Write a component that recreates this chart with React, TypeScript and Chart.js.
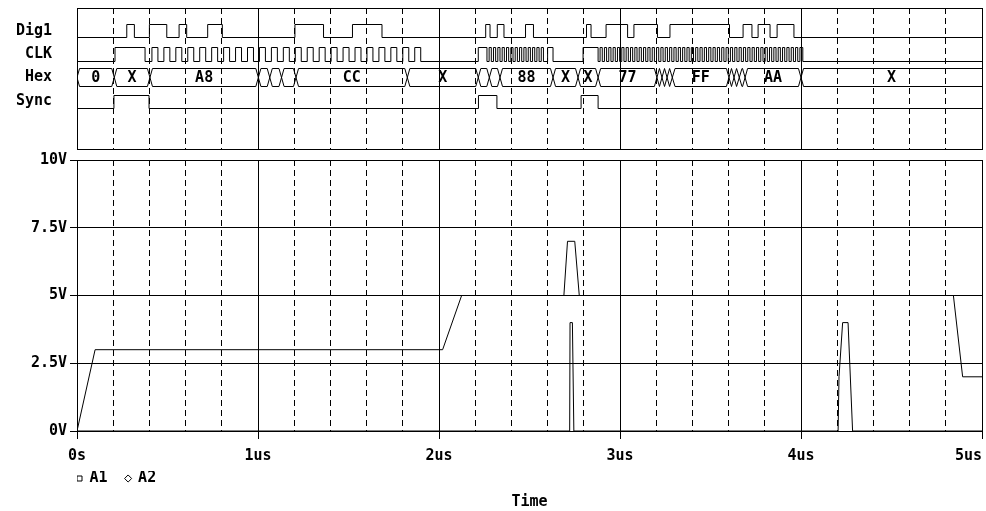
import React, { useEffect, useRef } from 'react';
import { Chart, registerables } from 'chart.js';

Chart.register(...registerables);

const FONT = "'DejaVu Sans Mono', 'Liberation Mono', monospace";

// ---------------- analog data ----------------
const voltTicks = [0, 2.5, 5, 7.5, 10];
const voltTickLabels = ['0V', '2.5V', '5V', '7.5V', '10V'];
const timeMajorTicks = [0, 1, 2, 3, 4, 5];
const timeTickLabels = ['0s', '1us', '2us', '3us', '4us', '5us'];

const a1Time = [0, 0.1, 2.02, 2.125, 2.69, 2.71, 2.75, 2.775, 4.842, 4.893, 5];
const a1Volt = [0, 3, 3, 5, 5, 7, 7, 5, 5, 2, 2];
const a2Time = [0, 2.722, 2.724, 2.737, 2.745, 4.205, 4.21, 4.23, 4.26, 4.285, 5];
const a2Volt = [0, 0, 4, 4, 0, 0, 2, 4, 4, 0, 0];

// ---------------- digital data (edge times, ns) ----------------
const digitalLabels = ['Dig1', 'CLK', 'Hex', 'Sync'];

const dig1Start = 0;
const dig1Edges = [275, 317, 400, 496, 564, 606, 722, 803, 1204, 1362, 1522, 1685, 2258, 2282, 2322, 2359,
  2478, 2522, 2815, 2840, 2923, 3042, 3077, 3207, 3276, 3605, 3680, 3729, 3763, 3829, 3868, 3961];

const clkStart = 0;
const clkEdges = [210, 376,
  414, 447, 480, 513, 546, 579, 612, 645, 678, 711, 744, 777, 810, 843, 876, 909, 942, 975, 1008, 1041,
  1074, 1107, 1140, 1173, 1206, 1239, 1272, 1305, 1338, 1371, 1404, 1437, 1470, 1503, 1536, 1569, 1602, 1635,
  1668, 1701, 1734, 1767, 1800, 1833, 1866, 1899,
  2217, 2265, 2277, 2289, 2301, 2313, 2325, 2337, 2349, 2361, 2373, 2385, 2397, 2409, 2421, 2433, 2445, 2457,
  2469, 2481, 2493, 2505, 2517, 2529, 2541, 2553, 2565, 2577, 2600, 2630,
  2796, 2879,
  2890, 2902, 2914, 2926, 2938, 2950, 2962, 2974, 2986, 2998, 3010, 3022, 3034, 3046, 3058, 3070, 3082, 3094,
  3106, 3118, 3130, 3142, 3154, 3166, 3178, 3190, 3202, 3214, 3226, 3238, 3250, 3262, 3274, 3286, 3298, 3310,
  3322, 3334, 3346, 3358, 3370, 3382, 3394, 3406, 3418, 3430, 3442, 3454, 3466, 3478, 3490, 3502, 3514, 3526,
  3538, 3550, 3562, 3574, 3586, 3598, 3610, 3622, 3634, 3646, 3658, 3670, 3682, 3694, 3706, 3718, 3730, 3742,
  3754, 3766, 3778, 3790, 3802, 3814, 3826, 3838, 3850, 3862, 3874, 3886, 3898, 3910, 3922, 3934, 3946, 3958,
  3970, 3982, 3994, 4010];

const syncStart = 0;
const syncEdges = [204, 398, 2218, 2320, 2785, 2879];

const hexEdges = [206, 403, 1002, 1065, 1130, 1210, 1825, 2217, 2278, 2337, 2630, 2768, 2879,
  3204, 3232, 3260, 3290, 3602, 3630, 3660, 3691, 4000];
const hexValues = ['0', 'X', 'A8', '', '', '', 'CC', 'X', '', '', '88', 'X', 'X', '77', '', '', '', 'FF',
  '', '', '', 'AA', 'X'];

// ---------------- layout constants ----------------
const T_END_NS = 5000;
const DIG_MAX = 141;
const ROW = {
  dig1: [111.5, 124.5],
  clk: [87.5, 101.5],
  hex: [62.5, 80.5],
  sync: [40.5, 53.5],
};
const LABEL_Y = [118, 95, 72, 48];
const BUS_HALF_NS = 14;

const isMajor = (v: number) => Math.abs(v - Math.round(v)) < 1e-6;

function stepPoints(start: number, edges: number[], lo: number, hi: number) {
  let lvl = start;
  const pts = [{ x: 0, y: lvl ? hi : lo }];
  for (const e of edges) {
    lvl = 1 - lvl;
    pts.push({ x: e / 1000, y: lvl ? hi : lo });
  }
  pts.push({ x: T_END_NS / 1000, y: lvl ? hi : lo });
  return pts;
}

function busRail(edges: number[], startTop: boolean, bot: number, top: number) {
  let onTop = startTop;
  const mid = (top + bot) / 2;
  const pts = [{ x: 0, y: mid }, { x: BUS_HALF_NS / 1000, y: onTop ? top : bot }];
  for (const e of edges) {
    pts.push({ x: (e - BUS_HALF_NS) / 1000, y: onTop ? top : bot });
    onTop = !onTop;
    pts.push({ x: (e + BUS_HALF_NS) / 1000, y: onTop ? top : bot });
  }
  pts.push({ x: T_END_NS / 1000, y: onTop ? top : bot });
  return pts;
}

const lineStyle = {
  borderColor: '#000',
  borderWidth: 1,
  pointRadius: 0,
  fill: false,
  tension: 0,
  xAxisID: 'x',
  yAxisID: 'y',
};

const hexLabelPlugin = {
  id: 'hexLabels',
  afterDatasetsDraw(chart: any) {
    const { ctx, scales } = chart;
    const x = scales.x;
    const y = scales.y;
    const bounds = [0, ...hexEdges, T_END_NS];
    const yc = y.getPixelForValue((ROW.hex[0] + ROW.hex[1]) / 2);
    ctx.save();
    ctx.font = `bold 15px ${FONT}`;
    ctx.fillStyle = '#000';
    ctx.textAlign = 'center';
    ctx.textBaseline = 'middle';
    hexValues.forEach((v, i) => {
      if (!v) return;
      const x0 = x.getPixelForValue(bounds[i] / 1000);
      const x1 = x.getPixelForValue(bounds[i + 1] / 1000);
      ctx.fillText(v, (x0 + x1) / 2, yc + 1);
    });
    ctx.restore();
  },
};

const gridDash = (c: any) => (c.tick && !isMajor(c.tick.value) ? [6, 4] : []);

export default function App() {
  const digRef = useRef<HTMLCanvasElement>(null);
  const anaRef = useRef<HTMLCanvasElement>(null);

  useEffect(() => {
    Chart.defaults.font = { family: FONT, size: 15, weight: 'bold', style: 'normal', lineHeight: 1.2 } as any;
    Chart.defaults.color = '#000';

    const dig = new Chart(digRef.current!, {
      type: 'line',
      data: {
        datasets: [
          { ...lineStyle, label: 'Dig1', stepped: 'before', data: stepPoints(dig1Start, dig1Edges, ROW.dig1[0], ROW.dig1[1]) },
          { ...lineStyle, label: 'CLK', stepped: 'before', data: stepPoints(clkStart, clkEdges, ROW.clk[0], ROW.clk[1]) },
          { ...lineStyle, label: 'HexA', data: busRail(hexEdges, true, ROW.hex[0], ROW.hex[1]) },
          { ...lineStyle, label: 'HexB', data: busRail(hexEdges, false, ROW.hex[0], ROW.hex[1]) },
          { ...lineStyle, label: 'Sync', stepped: 'before', data: stepPoints(syncStart, syncEdges, ROW.sync[0], ROW.sync[1]) },
        ] as any,
      },
      options: {
        responsive: false,
        animation: false,
        events: [],
        layout: { padding: { left: 0, right: 4, top: 8, bottom: 1 } },
        plugins: { legend: { display: false }, tooltip: { enabled: false }, title: { display: false } },
        scales: {
          x: {
            type: 'linear',
            min: 0,
            max: 5,
            ticks: { display: false, stepSize: 0.2 },
            grid: { color: '#000', lineWidth: 1, drawTicks: false },
            border: { display: true, color: '#000', dash: gridDash },
            afterFit: (s: any) => { s.height = 0; s.paddingLeft = 0; s.paddingRight = 0; },
          },
          y: {
            type: 'linear',
            min: 0,
            max: DIG_MAX,
            afterBuildTicks: (s: any) => {
              s.ticks = [...LABEL_Y].sort((a, b) => a - b).map((v) => ({ value: v })).concat([{ value: DIG_MAX }]);
            },
            ticks: {
              padding: 25,
              color: '#000',
              callback: (v: any) => {
                const i = LABEL_Y.indexOf(Number(v));
                return i >= 0 ? digitalLabels[i] : '';
              },
            },
            grid: {
              drawTicks: false,
              color: (c: any) => (c.tick && c.tick.value === DIG_MAX ? '#000' : 'rgba(0,0,0,0)'),
            },
            border: { display: true, color: '#000' },
            afterFit: (s: any) => { s.width = 77; s.paddingTop = 0; s.paddingBottom = 0; },
          },
        } as any,
      },
      plugins: [hexLabelPlugin],
    });

    const ana = new Chart(anaRef.current!, {
      type: 'line',
      data: {
        datasets: [
          { ...lineStyle, label: 'A1', pointStyle: 'rect', data: a1Time.map((t, i) => ({ x: t, y: a1Volt[i] })) },
          { ...lineStyle, label: 'A2', pointStyle: 'rectRot', data: a2Time.map((t, i) => ({ x: t, y: a2Volt[i] })) },
        ] as any,
      },
      options: {
        responsive: false,
        animation: false,
        events: [],
        layout: { padding: { left: 0, right: 4, top: 10, bottom: 0 } },
        plugins: {
          tooltip: { enabled: false },
          legend: {
            display: true,
            position: 'bottom',
            align: 'start',
            fullSize: false,
            labels: {
              usePointStyle: true,
              boxWidth: 5,
              boxHeight: 5,
              padding: 0,
              color: '#000',
              generateLabels: () => [
                { text: 'A1  ', pointStyle: 'rect', fillStyle: '#fff', strokeStyle: '#000', lineWidth: 1, hidden: false, datasetIndex: 0 },
                { text: 'A2', pointStyle: 'rectRot', fillStyle: '#fff', strokeStyle: '#000', lineWidth: 1, hidden: false, datasetIndex: 1 },
              ],
            },
          },
          title: {
            display: true,
            text: 'Time',
            position: 'bottom',
            fullSize: false,
            color: '#000',
            padding: { top: -3, bottom: 0 },
          },
        },
        scales: {
          x: {
            type: 'linear',
            min: 0,
            max: 5,
            ticks: {
              stepSize: 0.2,
              autoSkip: false,
              maxRotation: 0,
              padding: 8,
              callback: (value: any) => {
                const v = Number(value);
                if (!isMajor(v) || Math.round(v) === 5) return '';
                return timeTickLabels[timeMajorTicks.indexOf(Math.round(v))];
              },
            },
            grid: {
              color: '#000',
              lineWidth: 1,
              tickLength: 8,
              tickColor: (c: any) => (c.tick && isMajor(c.tick.value) ? '#000' : 'rgba(0,0,0,0)'),
            },
            border: { display: true, color: '#000', dash: gridDash },
            afterFit: (s: any) => { s.height = 40; s.paddingLeft = 0; s.paddingRight = 0; },
          },
          x5: {
            type: 'linear',
            axis: 'x',
            position: { y: 0 },
            min: 0,
            max: 5,
            ticks: {
              stepSize: 5,
              align: 'inner',
              padding: 8,
              maxRotation: 0,
              callback: (value: any) => (Number(value) === 5 ? timeTickLabels[5] : ''),
            },
            grid: { display: false, tickLength: 8 },
            border: { display: false },
            afterFit: (s: any) => { s.paddingLeft = 0; s.paddingRight = 0; },
          },
          y: {
            type: 'linear',
            min: 0,
            max: 10,
            afterBuildTicks: (s: any) => { s.ticks = voltTicks.map((v) => ({ value: v })); },
            ticks: {
              padding: 3,
              callback: (value: any) => voltTickLabels[voltTicks.indexOf(Number(value))],
            },
            grid: { color: '#000', lineWidth: 1, tickLength: 7 },
            border: { display: true, color: '#000' },
            afterFit: (s: any) => { s.width = 77; s.paddingTop = 0; s.paddingBottom = 0; },
          },
        } as any,
      },
    });

    return () => {
      dig.destroy();
      ana.destroy();
    };
  }, []);

  return (
    <div style={{ position: 'absolute', left: 0, top: 0, width: 986, height: 511, background: '#fff', overflow: 'hidden' }}>
      <canvas ref={digRef} width={986} height={150} style={{ position: 'absolute', left: 0, top: 0, display: 'block' }} />
      <canvas ref={anaRef} width={986} height={361} style={{ position: 'absolute', left: 0, top: 150, display: 'block' }} />
    </div>
  );
}
